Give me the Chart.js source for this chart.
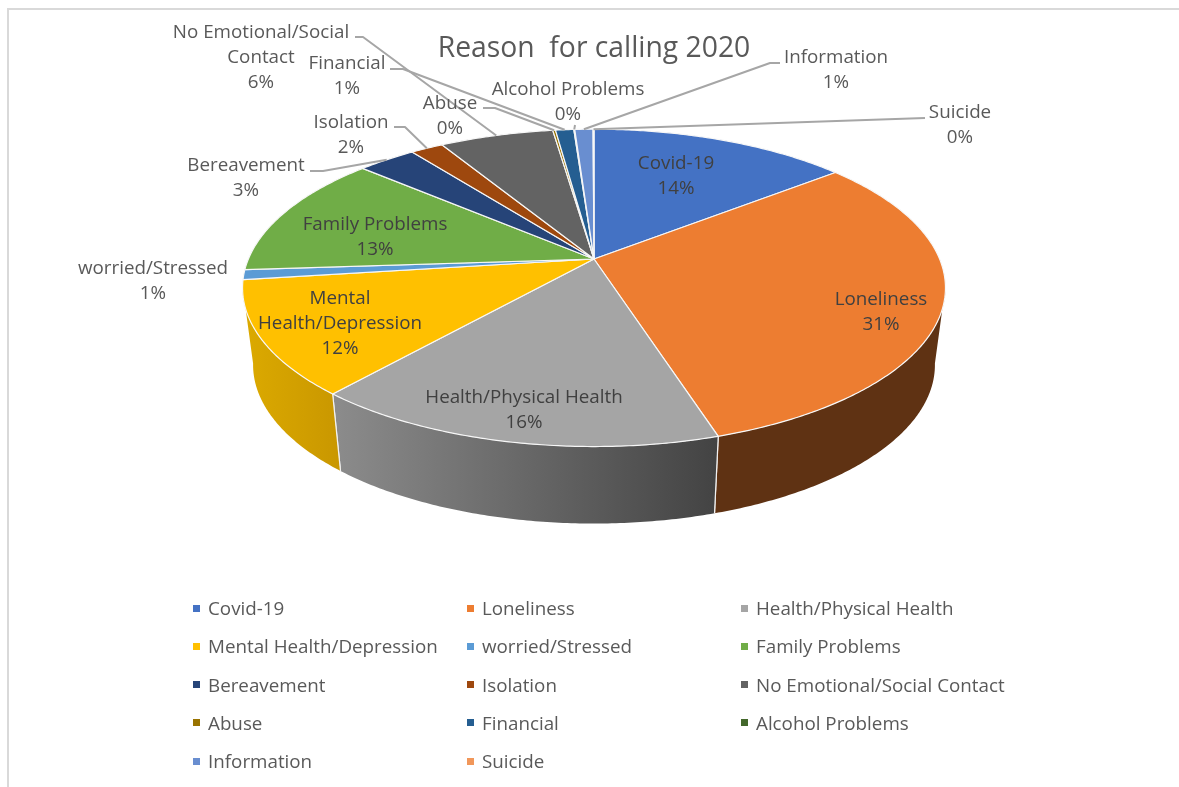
<!DOCTYPE html>
<html>
<head>
<meta charset="utf-8">
<title>Reason for calling 2020</title>
<script src="https://cdn.jsdelivr.net/npm/chart.js@4"></script>
<style>
    body { margin: 0; background: #fff; font-family: "Open Sans", sans-serif; }
    #wrap { position: relative; width: 1179px; height: 787px; overflow: hidden; }
    #frame { position: absolute; left: 7px; top: 8px; width: 1170px; height: 790px; border: 2px solid #d9d9d9; border-right-width: 1px; }
    #pieChart { position: absolute; left: 0; top: 0; }
    #legend { position: absolute; left: 193px; top: 589px; margin: 0; padding: 0; list-style: none; display: grid; grid-template-columns: 274px 274px 274px; grid-auto-rows: 38.25px; color: #595959; font-size: 18.8px; }
    #legend li { display: flex; align-items: center; height: 38.25px; white-space: nowrap; }
    #legend i { display: block; width: 7px; height: 7px; margin-right: 8px; }
</style>
</head>
<body>
<div id="wrap">
    <div id="frame"></div>
    <canvas id="pieChart" width="1179" height="787"></canvas>
    <ul id="legend"></ul>
</div>
<script>
const chartTitle = "Reason  for calling 2020";

const categories = [
    "Covid-19", "Loneliness", "Health/Physical Health", "Mental Health/Depression",
    "worried/Stressed", "Family Problems", "Bereavement", "Isolation",
    "No Emotional/Social Contact", "Abuse", "Financial", "Alcohol Problems",
    "Information", "Suicide",
];

// share of calls, in percent
const shares = [14.2, 31.0, 16.1, 11.6, 1.0, 12.6, 3.2, 1.8, 6.25, 0.15, 1.0, 0.05, 1.0, 0.05];

const sliceColors = [
    "#4472c4", "#ed7d31", "#a5a5a5", "#ffc000", "#5b9bd5", "#70ad47", "#264478",
    "#9e480e", "#636363", "#997300", "#255e91", "#43682b", "#698ed0", "#f1975a",
];

// side wall shades, left to right, for the slices facing the viewer
const wallShades = {
    1: ["#5f3213", "#5f3213"],
    2: ["#8c8c8c", "#434343"],
    3: ["#dcaa00", "#c99700"],
};

// label placement: centre x, first line y, wrapped lines, leader elbow
const labelSpots = [
    { x: 676, y: 163 },
    { x: 881, y: 299 },
    { x: 524, y: 397 },
    { x: 340, y: 298, lines: ["Mental", "Health/Depression"] },
    { x: 153, y: 268 },
    { x: 375, y: 224 },
    { x: 246, y: 165, leader: [[310, 171], [323, 171]] },
    { x: 351, y: 122, leader: [[394, 127], [405, 127]] },
    { x: 261, y: 32, lines: ["No Emotional/Social", "Contact"], leader: [[355, 37], [363, 37]] },
    { x: 450, y: 103, leader: [[483, 108], [495, 108]] },
    { x: 347, y: 63, leader: [[390, 69], [403, 69]] },
    { x: 568, y: 89, leader: [[575, 125], [575, 125]] },
    { x: 836, y: 57, leader: [[780, 63], [770, 63]] },
    { x: 960, y: 112, leader: [[925, 118], [925, 118]] },
];

// perspective of the tilted disc
const TILT_K = -0.182;
const STRETCH_X = 2.2526;
const DEPTH = 77;
const BASE_SHRINK = 0.97;
const WALL_FROM = 10 * Math.PI / 180;
const WALL_TO = 170 * Math.PI / 180;

class Arc3D extends Chart.ArcElement {
    static id = "arc3d";

    // angle on the disc -> canvas position on its top rim
    rim(angle) {
        const { x, y, outerRadius } = this.getProps(["x", "y", "outerRadius"], true);
        const d = 1 + TILT_K * Math.sin(angle);
        return {
            x: x + outerRadius * STRETCH_X * Math.cos(angle) / d,
            y: y + outerRadius * Math.sin(angle) / d,
        };
    }

    base(angle) {
        const p = this.rim(angle);
        const cx = this.getProps(["x"], true).x;
        return { x: cx + (p.x - cx) * BASE_SHRINK, y: p.y + DEPTH };
    }

    middle() {
        const { startAngle, endAngle } = this.getProps(["startAngle", "endAngle"], true);
        return (startAngle + endAngle) / 2;
    }

    drawWall(ctx, shades) {
        const { startAngle, endAngle } = this.getProps(["startAngle", "endAngle"], true);
        const from = Math.max(startAngle, WALL_FROM);
        const to = Math.min(endAngle, WALL_TO);
        if (!shades || to <= from) return;

        const steps = Math.ceil((to - from) / 0.01);
        const top = [];
        const bottom = [];
        for (let i = 0; i <= steps; i++) {
            const a = from + (to - from) * i / steps;
            top.push(this.rim(a));
            bottom.push(this.base(a));
        }
        const xs = top.concat(bottom).map((p) => p.x);
        const fill = ctx.createLinearGradient(Math.min(...xs), 0, Math.max(...xs), 0);
        fill.addColorStop(0, shades[0]);
        fill.addColorStop(1, shades[1]);

        ctx.beginPath();
        top.forEach((p, i) => (i ? ctx.lineTo(p.x, p.y) : ctx.moveTo(p.x, p.y)));
        bottom.reverse().forEach((p) => ctx.lineTo(p.x, p.y));
        ctx.closePath();
        ctx.fillStyle = fill;
        ctx.fill();
        ctx.strokeStyle = "#f2f2f2";
        ctx.lineWidth = 1.2;
        // only the slice boundaries get a seam
        [[startAngle, from], [endAngle, to]].forEach(([edge, clamped]) => {
            if (edge !== clamped) return;
            const a = this.rim(edge);
            const b = this.base(edge);
            ctx.beginPath();
            ctx.moveTo(a.x, a.y);
            ctx.lineTo(b.x, b.y);
            ctx.stroke();
        });
    }

    draw(ctx) {
        const { x, y, startAngle, endAngle } = this.getProps(["x", "y", "startAngle", "endAngle"], true);
        const steps = Math.max(2, Math.ceil((endAngle - startAngle) / 0.01));
        ctx.beginPath();
        ctx.moveTo(x, y);
        for (let i = 0; i <= steps; i++) {
            const p = this.rim(startAngle + (endAngle - startAngle) * i / steps);
            ctx.lineTo(p.x, p.y);
        }
        ctx.closePath();
        ctx.fillStyle = this.options.backgroundColor;
        ctx.fill();
        ctx.strokeStyle = this.options.borderColor;
        ctx.lineWidth = this.options.borderWidth;
        ctx.lineJoin = "round";
        ctx.stroke();
    }
}

class Pie3DController extends Chart.PieController {
    static id = "pie3d";
    static defaults = { dataElementType: "arc3d" };

    draw() {
        const ctx = this.chart.ctx;
        this.getMeta().data.forEach((arc, i) => arc.drawWall(ctx, wallShades[i]));
        super.draw();
    }
}

Chart.register(Arc3D, Pie3DController);

// data labels and their leader lines
const sliceLabels = {
    id: "sliceLabels",
    afterDatasetsDraw(chart) {
        const ctx = chart.ctx;
        const arcs = chart.getDatasetMeta(0).data;
        const total = shares.reduce((sum, v) => sum + v, 0);

        ctx.save();
        arcs.forEach((arc, i) => {
            const spot = labelSpots[i];
            if (spot.leader) {
                const end = arc.rim(arc.middle());
                ctx.beginPath();
                ctx.moveTo(spot.leader[0][0], spot.leader[0][1]);
                ctx.lineTo(spot.leader[1][0], spot.leader[1][1]);
                ctx.lineTo(end.x, end.y);
                ctx.strokeStyle = "#a6a6a6";
                ctx.lineWidth = 2;
                ctx.stroke();
            }
        });

        ctx.font = '18.8px "Open Sans"';
        ctx.textAlign = "center";
        ctx.textBaseline = "middle";
        arcs.forEach((arc, i) => {
            const spot = labelSpots[i];
            const lines = (spot.lines || [categories[i]]).concat(Math.round(shares[i] / total * 100) + "%");
            ctx.fillStyle = spot.leader || i === 4 ? "#595959" : "#404040";
            lines.forEach((line, n) => ctx.fillText(line, spot.x, spot.y + 1 + n * 25));
        });
        ctx.restore();
    },
};

// legend laid out as a three column grid
const htmlLegend = {
    id: "htmlLegend",
    afterUpdate(chart) {
        const list = document.getElementById("legend");
        list.innerHTML = "";
        chart.options.plugins.legend.labels.generateLabels(chart).forEach((item) => {
            const row = document.createElement("li");
            const box = document.createElement("i");
            box.style.background = item.fillStyle;
            row.appendChild(box);
            row.appendChild(document.createTextNode(item.text));
            list.appendChild(row);
        });
    },
};

const pieChart = new Chart(document.getElementById("pieChart").getContext("2d"), {
    type: "pie3d",
    data: {
        labels: categories,
        datasets: [
            {
                data: shares,
                backgroundColor: sliceColors,
                borderColor: "#f7f7f7",
                borderWidth: 1.2,
            },
        ],
    },
    options: {
        responsive: false,
        animation: false,
        layout: { padding: { left: 9, right: 0, top: 0, bottom: 374 } },
        plugins: {
            legend: { display: false },
            tooltip: { enabled: false },
            title: {
                display: true,
                text: chartTitle,
                color: "#595959",
                font: { family: "Open Sans", size: 28.3, weight: "normal" },
                padding: { top: 32, bottom: 39 },
            },
        },
    },
    plugins: [sliceLabels, htmlLegend],
});
</script>
</body>
</html>
